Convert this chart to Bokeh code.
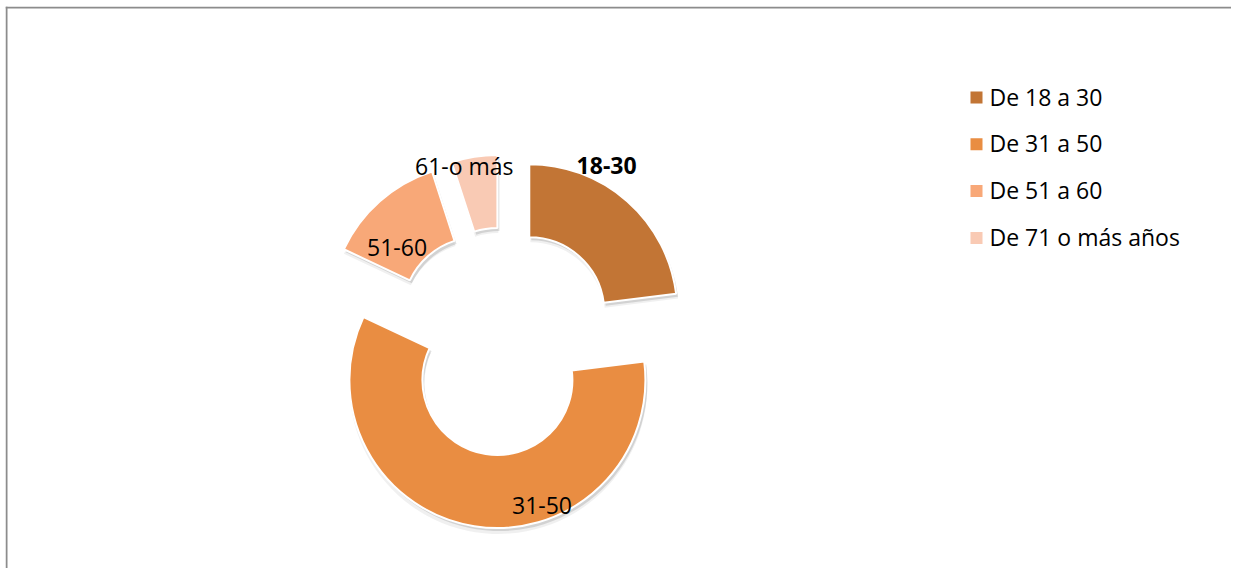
import math
from bokeh.plotting import figure
from bokeh.models import Range1d, ColumnDataSource, Span
from bokeh.core.properties import value
from bokeh.embed import file_html
from bokeh.resources import INLINE

# ---- data ----
categories = ["18-30", "31-50", "51-60", "61-o más"]
shares = [23, 59, 13, 5]
legend_labels = ["De 18 a 30", "De 31 a 50", "De 51 a 60", "De 71 o más años"]
colors = ["#C27535", "#E98D42", "#F8A878", "#F9CAB4"]
label_bold = [True, False, False, False]
# data-label placement (clockwise angle from 12 o'clock in degrees, distance) relative to each slice
label_angle = [28.5, 161.0, 307.0, 346.0]
label_dist = [162.0, 137.0, 101.0, 137.0]

W, H = 1231, 568
FONT = "Open Sans"
FS = "23px"
TEXT_NUDGE = 4.0  # optical baseline correction

p = figure(width=W, height=H, x_range=Range1d(5, W), y_range=Range1d(0, H - 6),
           output_backend="svg", toolbar_location=None,
           min_border_left=5, min_border_top=6, min_border_right=0, min_border_bottom=0,
           x_axis_type=None, y_axis_type=None)
p.grid.visible = False
p.outline_line_color = None
p.background_fill_color = "white"
p.border_fill_color = "white"

# chart-area border: only the top and left edges fall inside the picture
p.add_layout(Span(location=6, dimension="height", line_color="#8c8c8c", line_width=2))
p.add_layout(Span(location=H - 7, dimension="width", line_color="#8c8c8c", line_width=2))

# geometry (y measured upward from the bottom edge)
cx, cy = 503.0, 227.0
R_out, R_in = 148.0, 75.0
explode = 39.0

total = float(sum(shares))
starts, ends, xs, ys = [], [], [], []
acc = 0.0
for s in shares:
    a0 = acc / total * 360.0
    a1 = (acc + s) / total * 360.0
    mid = math.radians((a0 + a1) / 2)
    xs.append(cx + explode * math.sin(mid))
    ys.append(cy + explode * math.cos(mid))
    starts.append(math.radians(90 - a0))
    ends.append(math.radians(90 - a1))
    acc += s

src = ColumnDataSource(dict(x=xs, y=ys, start=starts, end=ends, color=colors,
                            sx=[x + 2 for x in xs], sy=[y - 3 for y in ys],
                            sx2=[x + 1 for x in xs], sy2=[y - 5 for y in ys]))

# soft shadow
p.annular_wedge(x="sx2", y="sy2", inner_radius=R_in, outer_radius=R_out + 1,
                start_angle="start", end_angle="end", direction="clock",
                fill_color="black", fill_alpha=0.06, line_color=None, source=src)
p.annular_wedge(x="sx", y="sy", inner_radius=R_in, outer_radius=R_out,
                start_angle="start", end_angle="end", direction="clock",
                fill_color="black", fill_alpha=0.12, line_color=None, source=src)
p.annular_wedge(x="x", y="y", inner_radius=R_in, outer_radius=R_out,
                start_angle="start", end_angle="end", direction="clock",
                fill_color="color", line_color="white", line_width=2, source=src)

# data labels
lx, ly = [], []
for i in range(len(categories)):
    a = math.radians(label_angle[i])
    lx.append(xs[i] + label_dist[i] * math.sin(a))
    ly.append(ys[i] + label_dist[i] * math.cos(a) + TEXT_NUDGE)
for i in range(len(categories)):
    p.text(x=[lx[i]], y=[ly[i]], text=[categories[i]], text_align="center",
           text_baseline="middle", text_font=value(FONT), text_font_size=FS,
           text_color="black", text_font_style="bold" if label_bold[i] else "normal")

# legend
leg_x, leg_y0, leg_dy = 976.0, 471.0, 46.8
lsx = [leg_x] * len(legend_labels)
lsy = [leg_y0 - i * leg_dy for i in range(len(legend_labels))]
p.scatter(x=lsx, y=lsy, marker="square", size=12, fill_color=colors, line_color=None)
p.text(x=[leg_x + 13] * len(legend_labels), y=[v + 1 for v in lsy], text=legend_labels,
       text_align="left", text_baseline="middle", text_font=value(FONT),
       text_font_size=FS, text_color="black")

open("out.html", "w").write(file_html(p, INLINE))
